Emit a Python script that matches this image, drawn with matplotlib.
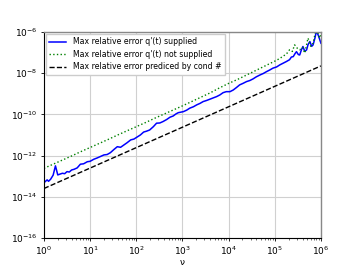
import numpy as np
import matplotlib
matplotlib.use("Agg")
import matplotlib.pyplot as plt

# log10(nu), log10(error)
blue_lognu = [0.00,0.07,0.10,0.145,0.20,0.25,0.30,0.35,0.40,0.45,0.50,0.55,0.60,0.65,0.72,0.79,0.86,0.94,
              1.00,1.08,1.15,1.22,1.30,1.37,1.44,1.52,1.59,1.66,1.73,1.80,1.88,1.95,2.02,2.09,2.16,2.22,
              2.29,2.37,2.44,2.51,2.58,2.66,2.73,2.80,2.86,2.91,3.02,3.09,3.16,3.24,3.31,3.38,3.45,3.52,
              3.59,3.67,3.74,3.81,3.88,3.95,4.03,4.10,4.17,4.24,4.31,4.39,4.46,4.53,4.60,4.68,4.75,4.82,
              4.89,4.96,5.04,5.11,5.18,5.25,5.32,5.36,5.40,5.44,5.47,5.51,5.54,5.58,5.61,5.65,5.69,5.72,
              5.76,5.80,5.83,5.87,5.90,5.94,5.97,6.00]
blue_logerr = [-13.32,-13.18,-13.25,-13.15,-12.95,-12.50,-12.94,-12.90,-12.86,-12.88,-12.78,-12.80,-12.70,
               -12.67,-12.60,-12.42,-12.40,-12.30,-12.28,-12.18,-12.12,-12.05,-11.97,-11.95,-11.86,-11.70,
               -11.57,-11.60,-11.49,-11.38,-11.24,-11.20,-11.10,-11.00,-10.86,-10.82,-10.76,-10.60,-10.43,
               -10.42,-10.35,-10.25,-10.14,-10.08,-9.98,-9.92,-9.87,-9.80,-9.70,-9.63,-9.54,-9.47,-9.38,
               -9.33,-9.27,-9.20,-9.14,-9.06,-8.95,-8.90,-8.90,-8.82,-8.70,-8.57,-8.50,-8.41,-8.36,-8.28,
               -8.18,-8.09,-8.02,-7.93,-7.85,-7.76,-7.70,-7.60,-7.52,-7.44,-7.35,-7.22,-7.20,-7.05,-6.96,
               -7.10,-7.12,-6.85,-6.71,-6.95,-6.87,-6.62,-6.47,-6.70,-6.63,-6.30,-5.98,-6.15,-6.35,-6.55]

green_lognu = [0.0,0.2,0.4,0.6,0.8,1.0,1.2,1.4,1.6,1.8,2.0,2.2,2.4,2.6,2.8,3.0,3.2,3.4,3.6,3.8,4.0,4.2,
               4.4,4.6,4.8,5.0,5.1,5.2,5.25,5.32,5.38,5.43,5.49,5.54,5.60,5.65,5.72,5.78,5.83,5.90,5.97,6.00]
green_logerr = [-12.62,-12.42,-12.22,-12.02,-11.81,-11.61,-11.41,-11.21,-11.00,-10.80,-10.60,-10.40,-10.19,
                -9.99,-9.79,-9.59,-9.38,-9.17,-8.96,-8.72,-8.50,-8.30,-8.08,-7.86,-7.64,-7.42,-7.30,-7.15,
                -7.08,-6.87,-6.95,-6.63,-6.80,-6.87,-6.75,-7.03,-6.30,-6.70,-6.55,-5.80,-6.30,-6.10]

cond_lognu = [0.0, 6.0]
cond_logerr = [-13.6, -7.65]

labels = ["Max relative error q'(t) supplied",
          "Max relative error q'(t) not supplied",
          "Max relative error prediced by cond #"]

fig = plt.figure(figsize=(3.57, 2.68), dpi=100)
ax = fig.add_axes([0.123, 0.112, 0.776, 0.769])

ax.loglog(10**np.array(blue_lognu), 10**np.array(blue_logerr), color='#0000ff', lw=1.1, label=labels[0])
ax.loglog(10**np.array(green_lognu), 10**np.array(green_logerr), color='#008000', lw=1.0, ls=':', label=labels[1])
ax.loglog(10**np.array(cond_lognu), 10**np.array(cond_logerr), color='black', lw=1.0, ls='--', label=labels[2])

ax.set_xlim(1, 1e6)
ax.set_ylim(1e-16, 1e-6)
ax.set_yticks([1e-16, 1e-14, 1e-12, 1e-10, 1e-8, 1e-6])
ax.set_xticks([1, 1e1, 1e2, 1e3, 1e4, 1e5, 1e6])
ax.yaxis.set_minor_locator(matplotlib.ticker.NullLocator())
ax.grid(True, which='major', color='#d0d0d0', lw=0.8)
ax.tick_params(labelsize=6.5, length=2.5, width=0.6, pad=2)
ax.tick_params(which='minor', length=1.5, width=0.4)
ax.set_xlabel('ν', fontsize=6.5, labelpad=1)
for s in ['left', 'bottom']:
    ax.spines[s].set_color('black')
    ax.spines[s].set_linewidth(0.8)
for s in ['top', 'right']:
    ax.spines[s].set_color('#888888')
    ax.spines[s].set_linewidth(1.0)

ax.legend(loc='upper left', prop={'size': 5.6}, handlelength=2.2, borderpad=0.45, labelspacing=0.45,
          handletextpad=0.8, borderaxespad=0.25, fancybox=False, framealpha=1.0, edgecolor='#cccccc')

fig.savefig('out.png', dpi=100)
